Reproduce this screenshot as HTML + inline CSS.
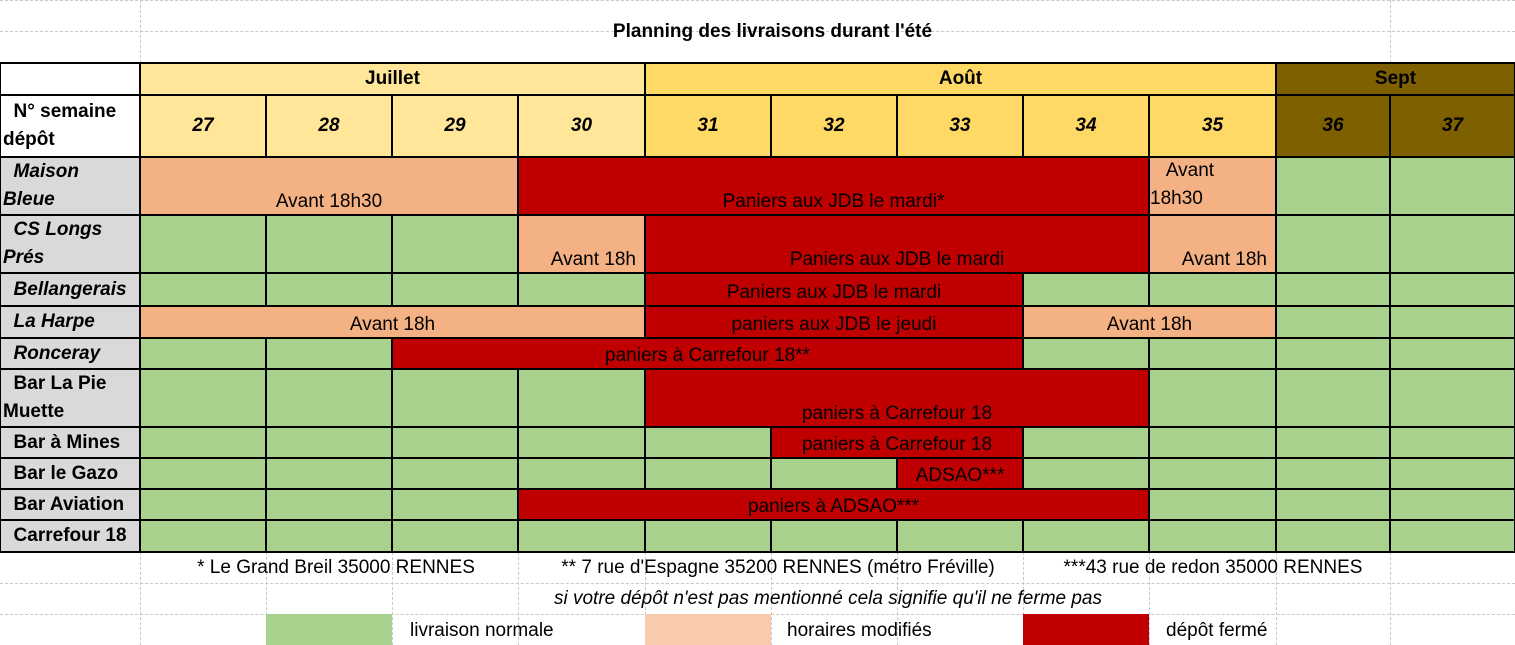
<!DOCTYPE html>
<html><head><meta charset="utf-8"><style>
body{margin:0;width:1515px;height:645px;overflow:hidden;background:#fff;font-family:"Liberation Sans",Arial,sans-serif;font-size:19px;color:#000;position:relative}
.c{position:absolute;box-sizing:border-box;border:2px solid #000;margin:-1px 0 0 -1px;overflow:hidden;white-space:nowrap;display:flex;justify-content:center;align-items:flex-end;padding-bottom:1px;line-height:22px}
.t{position:absolute;white-space:nowrap;line-height:22px}
.dh{position:absolute;border-top:1px dashed #c8c8c8;height:0}
.dv{position:absolute;border-left:1px dashed #c8c8c8;width:0}
</style></head><body>
<div id="r"></div>
<script>
var X=[0,140,266,392,518,645,771,897,1023,1149,1276,1390,1515];
var Y=[63,95,157,215,273,306,338,369,427,458,489,520,552];
var G='#A9D18E',O='#F4B183',R='#C00000',Y1='#FFE699',Y2='#FFD966',B='#7F6000',GR='#D9D9D9';
var h='';
function cell(c1,c2,r1,r2,bg,txt,st){h+='<div class="c" style="left:'+X[c1]+'px;top:'+Y[r1]+'px;width:'+(X[c2+1]-X[c1]+2)+'px;height:'+(Y[r2+1]-Y[r1]+2)+'px;background:'+bg+';'+(st||'')+'">'+(txt||'')+'</div>';}
[0,31].forEach(function(y){h+='<div class="dh" style="left:0;top:'+y+'px;width:1515px"></div>';});
[583,614].forEach(function(y){h+='<div class="dh" style="left:0;top:'+y+'px;width:1515px"></div>';});
h+='<div class="dv" style="left:140px;top:0;height:63px"></div><div class="dv" style="left:1390px;top:0;height:63px"></div>';
for(var i=1;i<12;i++){h+='<div class="dv" style="left:'+X[i]+'px;top:552px;height:93px"></div>';}
h+='<div class="t" style="left:0;width:1545px;text-align:center;top:21px;font-weight:bold;font-size:19px">Planning des livraisons durant l\'été</div>';
cell(0,0,0,0,'#fff');
cell(1,4,0,0,Y1,'Juillet','font-weight:bold;align-items:center');
cell(5,9,0,0,Y2,'Août','font-weight:bold;align-items:center');
cell(10,11,0,0,B,'Sept','font-weight:bold;align-items:center');
cell(0,0,1,1,'#fff','<div style="white-space:normal;text-align:left;width:100%;padding-left:2px;font-weight:bold;line-height:28px">&nbsp;&nbsp;N° semaine<br>dépôt</div>','justify-content:flex-start;align-items:center');
for(var w=27;w<=37;w++){var ci=w-26;cell(ci,ci,1,1,ci<=4?Y1:ci<=9?Y2:B,w,'font-weight:bold;font-style:italic;align-items:center');}
var names=[['&nbsp;&nbsp;Maison<br>Bleue',1,1],['&nbsp;&nbsp;CS Longs<br>Prés',1,1],['&nbsp;&nbsp;Bellangerais',1,0],['&nbsp;&nbsp;La Harpe',1,0],['&nbsp;&nbsp;Ronceray',1,0],['&nbsp;&nbsp;Bar La Pie<br>Muette',0,1],['&nbsp;&nbsp;Bar à Mines',0,0],['&nbsp;&nbsp;Bar le Gazo',0,0],['&nbsp;&nbsp;Bar Aviation',0,0],['&nbsp;&nbsp;Carrefour 18',0,0]];
names.forEach(function(n,i){cell(0,0,i+2,i+2,GR,'<div style="text-align:left;width:100%;font-weight:bold;'+(n[1]?'font-style:italic;':'')+'line-height:'+(n[2]?'28px':'22px')+'">'+n[0]+'</div>','justify-content:flex-start;padding-left:2px;align-items:center;padding-bottom:0');});
var rows=[
[[1,3,O,'Avant 18h30'],[4,8,R,'Paniers aux JDB le mardi*'],[9,9,O,'<div style="white-space:normal;text-align:left;width:100%;line-height:28px">&nbsp;&nbsp;&nbsp;Avant<br>18h30</div>']],
[[4,4,O,'<div style="width:100%;text-align:right;padding-right:8px">Avant 18h</div>'],[5,8,R,'Paniers aux JDB le mardi'],[9,9,O,'<div style="width:100%;text-align:right;padding-right:8px">Avant 18h</div>']],
[[5,7,R,'Paniers aux JDB le mardi']],
[[1,4,O,'Avant 18h'],[5,7,R,'paniers aux JDB le jeudi'],[8,9,O,'Avant 18h']],
[[3,7,R,'paniers à Carrefour 18**']],
[[5,8,R,'paniers à Carrefour 18']],
[[6,7,R,'paniers à Carrefour 18']],
[[7,7,R,'ADSAO***']],
[[4,8,R,'paniers à ADSAO***']],
[]];
rows.forEach(function(segs,i){var r=i+2,covered={};
segs.forEach(function(s){for(var k=s[0];k<=s[1];k++)covered[k]=1;cell(s[0],s[1],r,r,s[2],s[3]);});
for(var k=1;k<=11;k++)if(!covered[k])cell(k,k,r,r,G);});
h+='<div class="t" style="left:140px;width:392px;text-align:center;top:557px">* Le Grand Breil 35000 RENNES</div>';
h+='<div class="t" style="left:508px;width:540px;text-align:center;top:557px">** 7 rue d\'Espagne 35200 RENNES (métro Fréville)</div>';
h+='<div class="t" style="left:1013px;width:400px;text-align:center;top:557px">***43 rue de redon 35000 RENNES</div>';
h+='<div class="t" style="left:140px;width:1376px;text-align:center;top:588px;font-style:italic">si votre dépôt n\'est pas mentionné cela signifie qu\'il ne ferme pas</div>';
h+='<div style="position:absolute;left:266px;top:614px;width:126px;height:31px;background:#A9D18E"></div>';
h+='<div style="position:absolute;left:645px;top:614px;width:126px;height:31px;background:#F8CBAD"></div>';
h+='<div style="position:absolute;left:1023px;top:614px;width:126px;height:31px;background:#C00000"></div>';
h+='<div class="t" style="left:410px;top:620px">livraison normale</div>';
h+='<div class="t" style="left:787px;top:620px">horaires modifiés</div>';
h+='<div class="t" style="left:1166px;top:620px">dépôt fermé</div>';
document.getElementById('r').innerHTML=h;
</script>
</body></html>
